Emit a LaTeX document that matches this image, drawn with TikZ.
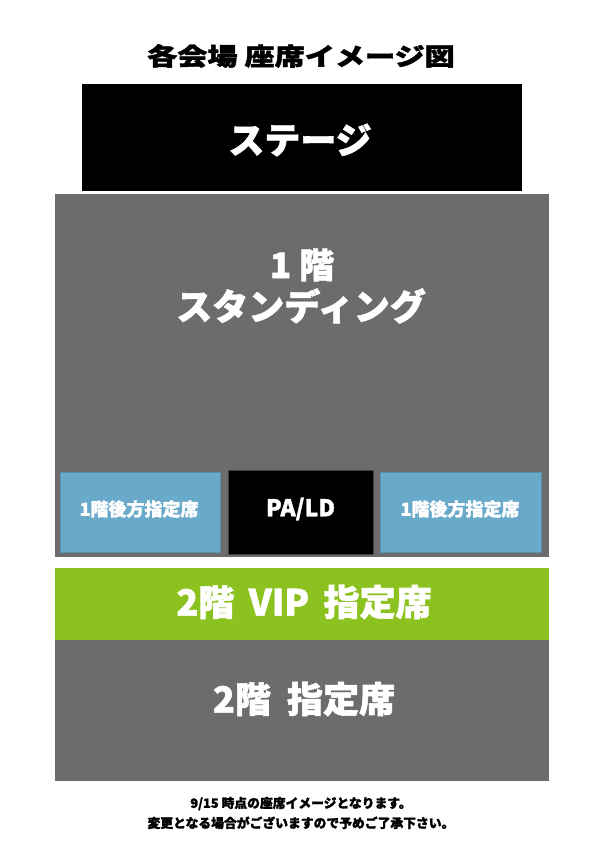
\documentclass[tikz,border=0pt]{standalone}
\usepackage{fontspec}
\setmainfont{Noto Sans CJK JP}[BoldFeatures={FakeBold=1.6}]
\definecolor{hallgray}{HTML}{6D6B6C}
\definecolor{seatblue}{HTML}{69AACB}
\definecolor{vipgreen}{HTML}{8CC21F}
\tikzset{
  area/.style={rectangle, inner sep=0pt, outer sep=0pt},
  lbl/.style={inner sep=0pt, font=\bfseries, text=white, align=center},
}
\begin{document}
\begin{tikzpicture}[x=1pt,y=-1pt]
\useasboundingbox[fill=white] (0,0) rectangle (595,842);
% areas
\node[area, fill=black, minimum width=440pt, minimum height=107pt] (stage) at (302,137.5) {};
\node[area, fill=hallgray, minimum width=494pt, minimum height=363pt] (floor1) at (302,375.5) {};
\node[area, fill=seatblue, draw=seatblue!85!black, line width=0.5pt, minimum width=160pt, minimum height=80pt] (backL) at (140,512) {};
\node[area, fill=black, draw=hallgray!60!black, line width=0.5pt, minimum width=145pt, minimum height=84pt] (pald) at (300.5,512) {};
\node[area, fill=seatblue, draw=seatblue!85!black, line width=0.5pt, minimum width=161pt, minimum height=80pt] (backR) at (460.5,512) {};
\node[area, fill=vipgreen, minimum width=494pt, minimum height=72pt] (vip) at (302,604) {};
\node[area, fill=hallgray, minimum width=494pt, minimum height=141pt] (floor2) at (302,710.5) {};
% texts
\node[lbl, text=black, font=\bfseries\fontsize{24.5}{28}\selectfont, xscale=1.23] (title) at (301,56) {各会場 座席イメージ図};
\node[lbl, font=\bfseries\fontsize{36}{40}\selectfont] (stagetxt) at (300,140) {ステージ};
\node[lbl, font=\bfseries\fontsize{35}{40}\selectfont] (f1a) at (302,265) {1 階};
\node[lbl, font=\bfseries\fontsize{36}{40}\selectfont] (f1b) at (301,306) {スタンディング};
\node[lbl, font=\bfseries\fontsize{18}{20}\selectfont] (backLt) at (139,509) {1階後方指定席};
\node[lbl, font=\bfseries\fontsize{23}{24}\selectfont] (paldt) at (300.5,509) {PA/LD};
\node[lbl, font=\bfseries\fontsize{18}{20}\selectfont] (backRt) at (460,509) {1階後方指定席};
\node[lbl, font=\bfseries\fontsize{36}{40}\selectfont] (viptxt) at (304,602) {2階\hspace{0.4em}VIP\hspace{0.4em}指定席};
\node[lbl, font=\bfseries\fontsize{36}{40}\selectfont] (f2txt) at (304,699) {2階\hspace{0.45em}指定席};
\node[lbl, text=black, font=\bfseries\fontsize{12.8}{20}\selectfont] (note) at (301,813) {9/15 時点の座席イメージとなります。\\変更となる場合がございますので予めご了承下さい。};
\end{tikzpicture}
\end{document}
